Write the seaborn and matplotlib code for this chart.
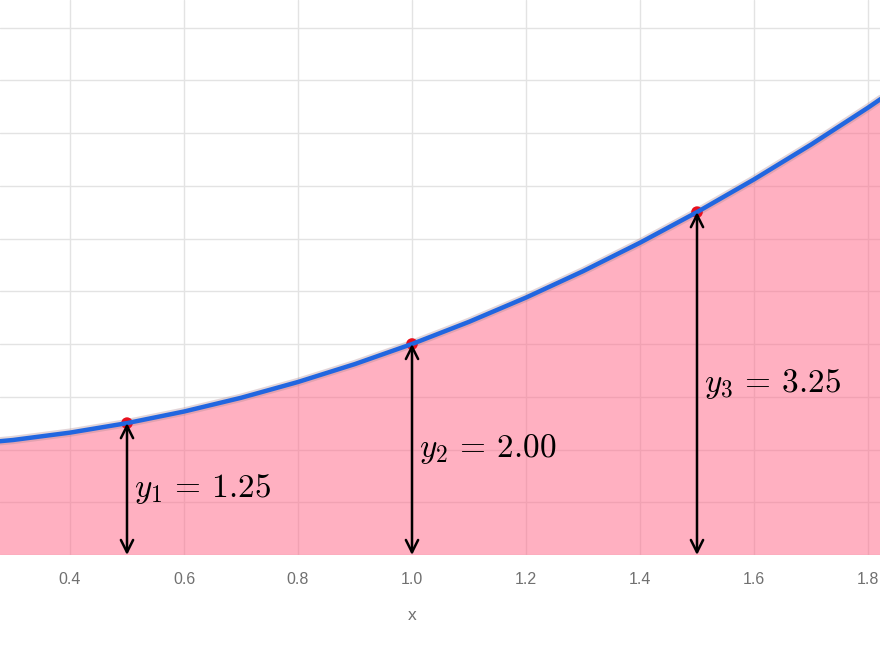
import numpy as np
import pandas as pd
import seaborn as sns
import matplotlib.pyplot as plt

# curve samples (y vs x)
curve_x = [0.2, 0.3, 0.4, 0.5, 0.6, 0.7, 0.8, 0.9, 1.0, 1.1, 1.2, 1.3, 1.4, 1.5, 1.6, 1.7, 1.8, 1.9]
curve_y = [1.04, 1.09, 1.16, 1.25, 1.36, 1.49, 1.64, 1.81, 2.00, 2.21, 2.44, 2.69, 2.96, 3.25, 3.56, 3.89, 4.24, 4.61]

# marked points
point_x = [0.5, 1.0, 1.5]
point_y = [1.25, 2.00, 3.25]
point_labels = [r'$y_1 \,=\, 1.25$', r'$y_2 \,=\, 2.00$', r'$y_3 \,=\, 3.25$']

x_ticks = [0.4, 0.6, 0.8, 1.0, 1.2, 1.4, 1.6, 1.8]
y_ticks = [0, 0.5, 1, 1.5, 2, 2.5, 3, 3.5, 4, 4.5, 5]

curve = pd.DataFrame({'x': curve_x, 'y': curve_y})
points = pd.DataFrame({'x': point_x, 'y': point_y})

sns.set_theme(style='whitegrid')
plt.rcParams['font.family'] = ['Liberation Sans', 'DejaVu Sans']
plt.rcParams['mathtext.fontset'] = 'cm'

fig = plt.figure(figsize=(8.8, 6.6), dpi=100)
ax = fig.add_axes([0, 1 - 555 / 660, 1, 555 / 660])

ax.fill_between(curve['x'], 0, curve['y'], color='#FF6384', alpha=0.5, linewidth=0, zorder=1)

# faint shadow under the blue curve
sns.lineplot(data=curve, x='x', y='y', ax=ax, color='#b08890', linewidth=6, alpha=0.35, zorder=2)
sns.scatterplot(data=points, x='x', y='y', ax=ax, color='#e8101e', s=70, edgecolor='none', zorder=3)
sns.lineplot(data=curve, x='x', y='y', ax=ax, color='#2166e0', linewidth=3.2, zorder=4)

for px, py, lab in zip(point_x, point_y, point_labels):
    ax.annotate('', xy=(px, py), xytext=(px, 0),
                arrowprops=dict(arrowstyle='<->', color='black', lw=1.8,
                                mutation_scale=22, shrinkA=0, shrinkB=0),
                zorder=5)
    ax.text(px + 0.012, py / 2, lab, fontsize=24, ha='left', va='center', color='black', zorder=6)

ax.set_xlim(0.4 - 70 / 570, 0.4 + 810 / 570)
ax.set_ylim(0, 555 / 105.5)
ax.set_xticks(x_ticks)
ax.set_yticks(y_ticks)
ax.set_yticklabels([])
ax.tick_params(axis='x', colors='#707070', labelsize=11.5, pad=12, length=0)
ax.tick_params(axis='y', length=0)
ax.set_xlabel('x', color='#707070', fontsize=12.5)
ax.xaxis.set_label_coords(412 / 880, -(615 - 555) / 555, transform=ax.transAxes)
ax.xaxis.label.set_va('center')
ax.set_ylabel('')
ax.grid(True, color='#e3e3e3', linewidth=1)
for s in ax.spines.values():
    s.set_visible(False)

fig.savefig('out.png', dpi=100)
